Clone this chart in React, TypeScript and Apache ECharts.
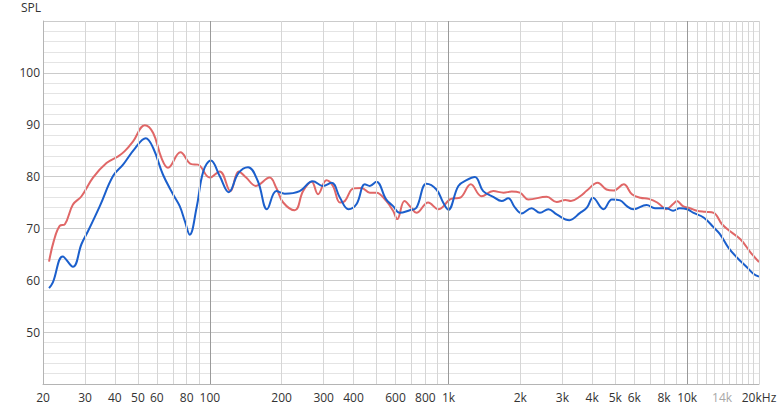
import React, { useEffect, useRef } from "react";
import * as echarts from "echarts";

const redFreq = [21.2, 22.2, 23.5, 24.7, 26.7, 29, 32.4, 36.9, 41.3, 44, 47.7, 53.4, 57.9, 62.7, 66.8, 75.3, 83.7, 89.2, 100, 110, 122, 132, 142, 156, 178, 190, 203, 227, 246, 267, 284, 308, 328, 351, 368, 399, 432, 468, 499, 548, 586, 610, 654, 698, 734, 822, 906, 1014, 1050, 1116, 1240, 1376, 1540, 1700, 1840, 1990, 2160, 2580, 2840, 3090, 3260, 3560, 3800, 4220, 4590, 4920, 5420, 5870, 6370, 6900, 7490, 7960, 8180, 8730, 9060, 9600, 10280, 11000, 11920, 12920, 14000, 15180, 16720, 18420, 20000];
const redSpl = [63.6, 67.6, 70.5, 70.8, 74.6, 76.2, 79.8, 82.6, 83.9, 84.9, 86.8, 89.9, 88.4, 83.6, 81.7, 84.7, 82.4, 82.3, 79.8, 81.0, 77.2, 81.0, 79.8, 78.2, 79.8, 77.8, 75.0, 73.5, 77.2, 79.0, 76.6, 79.3, 78.2, 75.0, 75.3, 77.7, 77.8, 76.9, 76.9, 75.3, 73.4, 71.8, 75.3, 74.0, 73.0, 75.0, 73.7, 75.6, 75.8, 75.9, 78.5, 76.2, 77.2, 76.9, 77.1, 76.9, 75.6, 76.1, 75.1, 75.5, 75.3, 76.2, 77.3, 78.8, 77.5, 77.3, 78.5, 76.6, 75.9, 75.7, 75.0, 74.0, 73.7, 74.7, 75.3, 74.3, 73.9, 73.4, 73.2, 73.0, 70.8, 69.4, 67.9, 65.4, 63.5];

const blueFreq = [21.2, 22, 24.2, 26.7, 29, 30.9, 34.6, 39.3, 43.3, 48.5, 53.9, 57.9, 63.6, 70.1, 74.8, 78.6, 82.4, 88, 93.9, 101, 110, 120, 132, 144.6, 159, 173.6, 190, 206, 238, 270, 298, 324, 351, 381, 412, 446, 468, 499, 548, 586, 624, 688, 734, 808, 890, 950, 998, 1100, 1190, 1290, 1398, 1540, 1670, 1780, 1900, 2026, 2230, 2416, 2620, 2840, 3210, 3560, 3800, 4030, 4460, 4840, 5240, 5590, 5950, 6760, 7330, 8180, 8730, 9310, 10000, 10640, 11720, 12920, 13720, 14880, 16160, 17800, 19000, 20000];
const blueSpl = [58.5, 59.6, 64.6, 62.6, 67.0, 69.5, 74.3, 80.1, 82.3, 85.4, 87.4, 85.5, 80.4, 76.6, 74.3, 71.4, 68.8, 74.0, 81.0, 83.1, 80.1, 77.0, 80.7, 81.8, 79.1, 73.7, 77.2, 76.7, 77.2, 79.1, 78.2, 78.8, 75.9, 73.7, 74.7, 78.5, 78.2, 79.0, 75.6, 74.3, 73.0, 73.5, 74.0, 78.6, 77.5, 75.0, 73.6, 78.2, 79.3, 79.9, 77.2, 76.1, 75.3, 75.8, 74.0, 72.9, 73.9, 73.0, 73.7, 72.7, 71.6, 73.0, 74.0, 75.9, 73.7, 75.6, 75.4, 74.3, 73.7, 74.5, 73.9, 73.9, 73.4, 73.9, 73.7, 73.0, 72.1, 70.2, 68.9, 66.3, 64.4, 62.5, 61.2, 60.7];

const xTickLabels = [20, 30, 40, 50, 60, 80, 100, 200, 300, 400, 600, 800, 1000, 2000, 3000, 4000, 5000, 6000, 8000, 10000, 14000, 20000];
const xGridMajor = [100, 1000, 10000];
const xGridMinor = [30, 40, 50, 60, 70, 80, 90, 200, 300, 400, 500, 600, 700, 800, 900, 2000, 3000, 4000, 5000, 6000, 7000, 8000, 9000, 11000, 12000, 13000, 14000, 15000, 16000, 17000, 18000, 19000, 20000];

const zip = (f: number[], s: number[]) => f.map((v, i) => [v, s[i]]);

export default function App() {
  const ref = useRef<HTMLDivElement>(null);
  useEffect(() => {
    document.body.style.margin = "0";
    const chart = echarts.init(ref.current!, undefined, { renderer: "svg" });
    const font = "'Open Sans', 'Noto Sans', sans-serif";
    const fmt = (v: number) => {
      if (v >= 20000) return "20kHz";
      if (v >= 1000) return Math.round(v / 1000) + "k";
      return String(Math.round(v));
    };
    chart.setOption({
      animation: false,
      grid: { left: 43, right: 21, top: 19, bottom: 25, containLabel: false },
      xAxis: {
        type: "log",
        logBase: 10,
        min: 20,
        max: 20000,
        axisLine: { show: true, lineStyle: { color: "#b4b4b4", width: 1 } },
        axisTick: { show: false },
        splitLine: { show: false },
        minorSplitLine: { show: false },
        axisLabel: {
          customValues: xTickLabels,
          formatter: (v: number) => fmt(v),
          color: (v: any) => (Math.round(Number(v)) === 14000 ? "#a8a8a8" : "#333"),
          fontSize: 12,
          fontFamily: font,
          margin: 7,
          showMinLabel: true,
          showMaxLabel: true,
        },
      },
      yAxis: {
        type: "value",
        min: 40,
        max: 110,
        interval: 2,
        name: "SPL",
        nameLocation: "end",
        nameGap: 7,
        nameTextStyle: { align: "right", verticalAlign: "bottom", color: "#333", fontSize: 12, lineHeight: 14, fontFamily: font, padding: [0, 2, 0, 0] },
        axisLine: { show: true, lineStyle: { color: "#b4b4b4", width: 1 } },
        axisTick: { show: false },
        axisLabel: {
          formatter: (v: number) => (v % 10 === 0 && v > 40 && v < 110 ? String(v) : ""),
          color: "#333",
          fontSize: 12,
          fontFamily: font,
          margin: 3,
        },
        splitLine: {
          show: true,
          lineStyle: { color: ["#cbcbcb", "#e4e4e4", "#e4e4e4", "#e4e4e4", "#e4e4e4"], width: 1 },
        },
      },
      series: [
        {
          type: "line",
          data: [],
          silent: true,
          markLine: {
            silent: true,
            symbol: "none",
            animation: false,
            label: { show: false },
            lineStyle: { color: "#d6d6d6", width: 1, type: "solid" },
            data: xGridMinor.map((v) => ({ xAxis: v })),
          },
        },
        {
          type: "line",
          data: [],
          silent: true,
          markLine: {
            silent: true,
            symbol: "none",
            animation: false,
            label: { show: false },
            lineStyle: { color: "#9a9a9a", width: 1, type: "solid" },
            data: xGridMajor.map((v) => ({ xAxis: v })),
          },
        },
        {
          name: "red",
          type: "line",
          data: zip(redFreq, redSpl),
          smooth: 0.4,
          showSymbol: false,
          lineStyle: { color: "#e06767", width: 2 },
          itemStyle: { color: "#e06767" },
          z: 3,
        },
        {
          name: "blue",
          type: "line",
          data: zip(blueFreq, blueSpl),
          smooth: 0.4,
          showSymbol: false,
          lineStyle: { color: "#1b5fcc", width: 2 },
          itemStyle: { color: "#1b5fcc" },
          z: 4,
        },
      ],
    });
    return () => chart.dispose();
  }, []);
  return <div ref={ref} style={{ position: "absolute", left: 0, top: 0, width: 780, height: 409 }} />;
}
